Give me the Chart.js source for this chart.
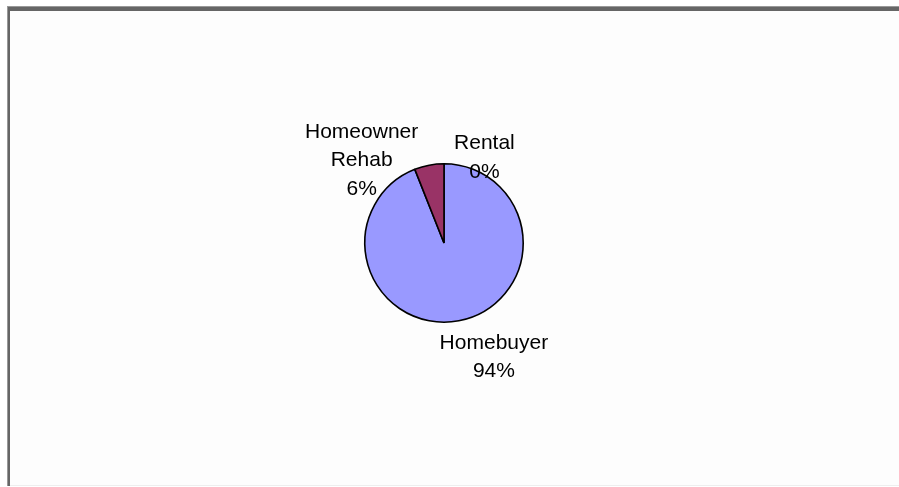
<!DOCTYPE html>
<html>
<head>
<meta charset="utf-8">
<script src="https://cdn.jsdelivr.net/npm/chart.js@4"></script>
<style>
  html, body { margin: 0; padding: 0; background: #ffffff; }
  body { width: 899px; height: 487px; position: relative; overflow: hidden; }
  #frame {
    position: absolute; left: 7px; top: 6px; width: 892px; height: 480px;
    background: #999999;
  }
  #inner {
    position: absolute; left: 1px; top: 1px; right: 0; bottom: 0;
    background: #666666;
  }
  #plot {
    position: absolute; left: 2px; top: 4px; right: 0; bottom: 0;
    background: #fdfdfd; border-bottom: 1px solid #eeeeee;
  }
  #wrap { position: absolute; left: 0; top: 0; width: 899px; height: 487px; }
</style>
</head>
<body>
<div id="frame"><div id="inner"><div id="plot"></div></div></div>
<div id="wrap"><canvas id="c" width="899" height="487"></canvas></div>
<script>
const categories = ["Homebuyer", "Homeowner\nRehab", "Rental"];
const values = [94, 6, 0];
const percentLabels = ["94%", "6%", "0%"];
const colors = ["#9999FF", "#993366", "#FFFFCC"];

const labelPlugin = {
  id: 'excelLabels',
  afterDatasetsDraw(chart, args, opts) {
    const ctx = chart.ctx;
    const meta = chart.getDatasetMeta(0);
    ctx.save();
    ctx.font = opts.font;
    ctx.fillStyle = opts.color;
    ctx.textAlign = 'center';
    ctx.textBaseline = 'middle';
    meta.data.forEach((arc, i) => {
      const r = arc.outerRadius;
      const off = opts.offsets[i];
      const cx = arc.x + off[0] * r;
      const cy = arc.y + off[1] * r;
      const lines = categories[i].split("\n").concat([percentLabels[i]]);
      const lh = opts.lineHeight;
      const start = cy - (lines.length - 1) * lh / 2;
      lines.forEach((ln, j) => ctx.fillText(ln, cx, start + j * lh));
    });
    ctx.restore();
  }
};

new Chart(document.getElementById('c'), {
  type: 'pie',
  data: {
    labels: categories.map(s => s.replace("\n", " ")),
    datasets: [{
      data: values,
      backgroundColor: colors,
      borderColor: '#000000',
      borderWidth: 1.6
    }]
  },
  options: {
    responsive: false,
    animation: false,
    events: [],
    layout: { padding: { left: 0, right: 11, top: 163, bottom: 164 } },
    plugins: {
      legend: { display: false },
      tooltip: { enabled: false },
      title: { display: false },
      excelLabels: {
        font: '21px "Liberation Sans", Arial, sans-serif',
        color: '#000000',
        lineHeight: 28.5,
        offsets: [[0.63, 1.44], [-1.04, -1.04], [0.51, -1.08]]
      }
    }
  },
  plugins: [labelPlugin]
});
</script>
</body>
</html>
